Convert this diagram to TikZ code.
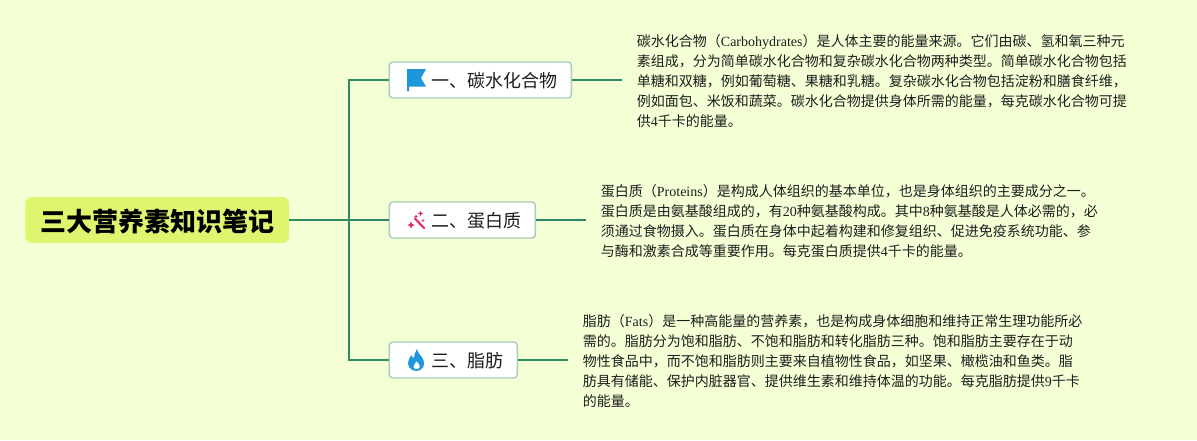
\documentclass[tikz,border=0pt]{standalone}
\usepackage{fontspec}
\setmainfont{Liberation Serif}
\newfontfamily\cjk{Noto Sans CJK SC}
\newcommand{\lat}[1]{{\rmfamily #1}}
\definecolor{mybg}{HTML}{F5FFD6}
\definecolor{myroot}{HTML}{DDF56F}
\definecolor{mygreen}{HTML}{2E8B66}
\definecolor{myedge}{HTML}{A8CDB8}
\definecolor{myblue}{HTML}{1E96DC}
\definecolor{mypink}{HTML}{E8296B}
\definecolor{myink}{HTML}{1E1E1E}

\begin{document}
\begin{tikzpicture}[
    x=0.75pt, y=-0.75pt, % one unit is one pixel of the layout
    every node/.style={text=myink},
    root box/.style={fill=myroot, rounded corners=5pt, minimum height=34.5pt,
        text height=18pt, text depth=1pt,
        inner xsep=11.2pt, inner ysep=0pt, text=black,
        font=\cjk\fontsize{19.5}{24}\selectfont\bfseries},
    branch box/.style={fill=white, draw=myedge, line width=1.1pt, rounded corners=2.5pt,
        minimum height=27pt, text height=12pt, text depth=0.7pt,
        inner xsep=10.7pt, inner ysep=0pt,
        font=\cjk\fontsize{13.5}{16}\selectfont},
    detail box/.style={align=left, inner xsep=11pt, inner ysep=0pt,
        font=\cjk\fontsize{10.5}{15}\selectfont},
    link/.style={draw=mygreen, line width=1.5pt},
    spark/.style={fill=mypink}
]

    % --- 1. BACKGROUND ---
    \fill[mybg] (0,0) rectangle (1197,440);

    % --- 2. ROOT AND BRANCHES ---
    \node[root box, anchor=west] (root) at (25,220) {三大营养素知识笔记};
    \coordinate (trunk) at (349,220);

    \node[branch box, anchor=west] (carbs) at (388.7,80) {\hspace*{20.5pt}一、碳水化合物};
    \node[branch box, anchor=west] (protein) at (388.7,220) {\hspace*{20.5pt}二、蛋白质};
    \node[branch box, anchor=west] (fats) at (388.7,360) {\hspace*{20.5pt}三、脂肪};

    % --- 3. DETAIL TEXTS ---
    \node[detail box, anchor=west] (carbsText) at (622,81) {%
        碳水化合物（\lat{Carbohydrates}）是人体主要的能量来源。它们由碳、氢和氧三种元\\
        素组成，分为简单碳水化合物和复杂碳水化合物两种类型。简单碳水化合物包括\\
        单糖和双糖，例如葡萄糖、果糖和乳糖。复杂碳水化合物包括淀粉和膳食纤维，\\
        例如面包、米饭和蔬菜。碳水化合物提供身体所需的能量，每克碳水化合物可提\\
        供\lat{4}千卡的能量。};
    \node[detail box, anchor=west] (proteinText) at (586,221) {%
        蛋白质（\lat{Proteins}）是构成人体组织的基本单位，也是身体组织的主要成分之一。\\
        蛋白质是由氨基酸组成的，有\lat{20}种氨基酸构成。其中\lat{8}种氨基酸是人体必需的，必\\
        须通过食物摄入。蛋白质在身体中起着构建和修复组织、促进免疫系统功能、参\\
        与酶和激素合成等重要作用。每克蛋白质提供\lat{4}千卡的能量。};
    \node[detail box, anchor=west] (fatsText) at (568,361) {%
        脂肪（\lat{Fats}）是一种高能量的营养素，也是构成身体细胞和维持正常生理功能所必\\
        需的。脂肪分为饱和脂肪、不饱和脂肪和转化脂肪三种。饱和脂肪主要存在于动\\
        物性食品中，而不饱和脂肪则主要来自植物性食品，如坚果、橄榄油和鱼类。脂\\
        肪具有储能、保护内脏器官、提供维生素和维持体温的功能。每克脂肪提供\lat{9}千卡\\
        的能量。};

    % --- 4. CONNECTORS ---
    \draw[link] (root.east) -- (trunk);
    \draw[link] (trunk) |- (carbs.west);
    \draw[link] (trunk) -- (protein.west);
    \draw[link] (trunk) |- (fats.west);
    \draw[link] (carbs.east) -- (carbs.east -| carbsText.west);
    \draw[link] (protein.east) -- (protein.east -| proteinText.west);
    \draw[link] (fats.east) -- (fats.east -| fatsText.west);

    % --- 5. ICONS ---
    % Flag
    \fill[myblue] (407,69) -- (426,69) -- (421,78) -- (426,86.5) -- (409,86.5) -- (409,91) -- (407,91) -- cycle;
    % Wand and sparkles
    \draw[mypink, line width=1.6pt, line cap=round] (415,218.5) -- (424,228);
    \foreach \sx/\sy/\sr in {411/225/3.4, 420.5/213.5/2.6, 416/216.5/1.8, 423/220.5/1.6}
        \fill[spark] (\sx,\sy-\sr) -- (\sx+0.35*\sr,\sy-0.35*\sr) -- (\sx+\sr,\sy)
            -- (\sx+0.35*\sr,\sy+0.35*\sr) -- (\sx,\sy+\sr) -- (\sx-0.35*\sr,\sy+0.35*\sr)
            -- (\sx-\sr,\sy) -- (\sx-0.35*\sr,\sy-0.35*\sr) -- cycle;
    % Flame
    \fill[myblue, even odd rule] (417,349)
        .. controls (418,354) and (421,355) .. (423,359)
        .. controls (426,364) and (423,371) .. (416.5,371)
        .. controls (410,371) and (406,365) .. (409,359)
        .. controls (410,357) and (411,356) .. (411.5,355)
        .. controls (412,357) and (413,358) .. (414,358)
        .. controls (414,355) and (415,352) .. (417,349) -- cycle
        (416.5,361)
        .. controls (415,364) and (413,365) .. (413.5,367)
        .. controls (414,370) and (419,370) .. (420,367)
        .. controls (420.5,365) and (418,363) .. (416.5,361) -- cycle;

\end{tikzpicture}
\end{document}
